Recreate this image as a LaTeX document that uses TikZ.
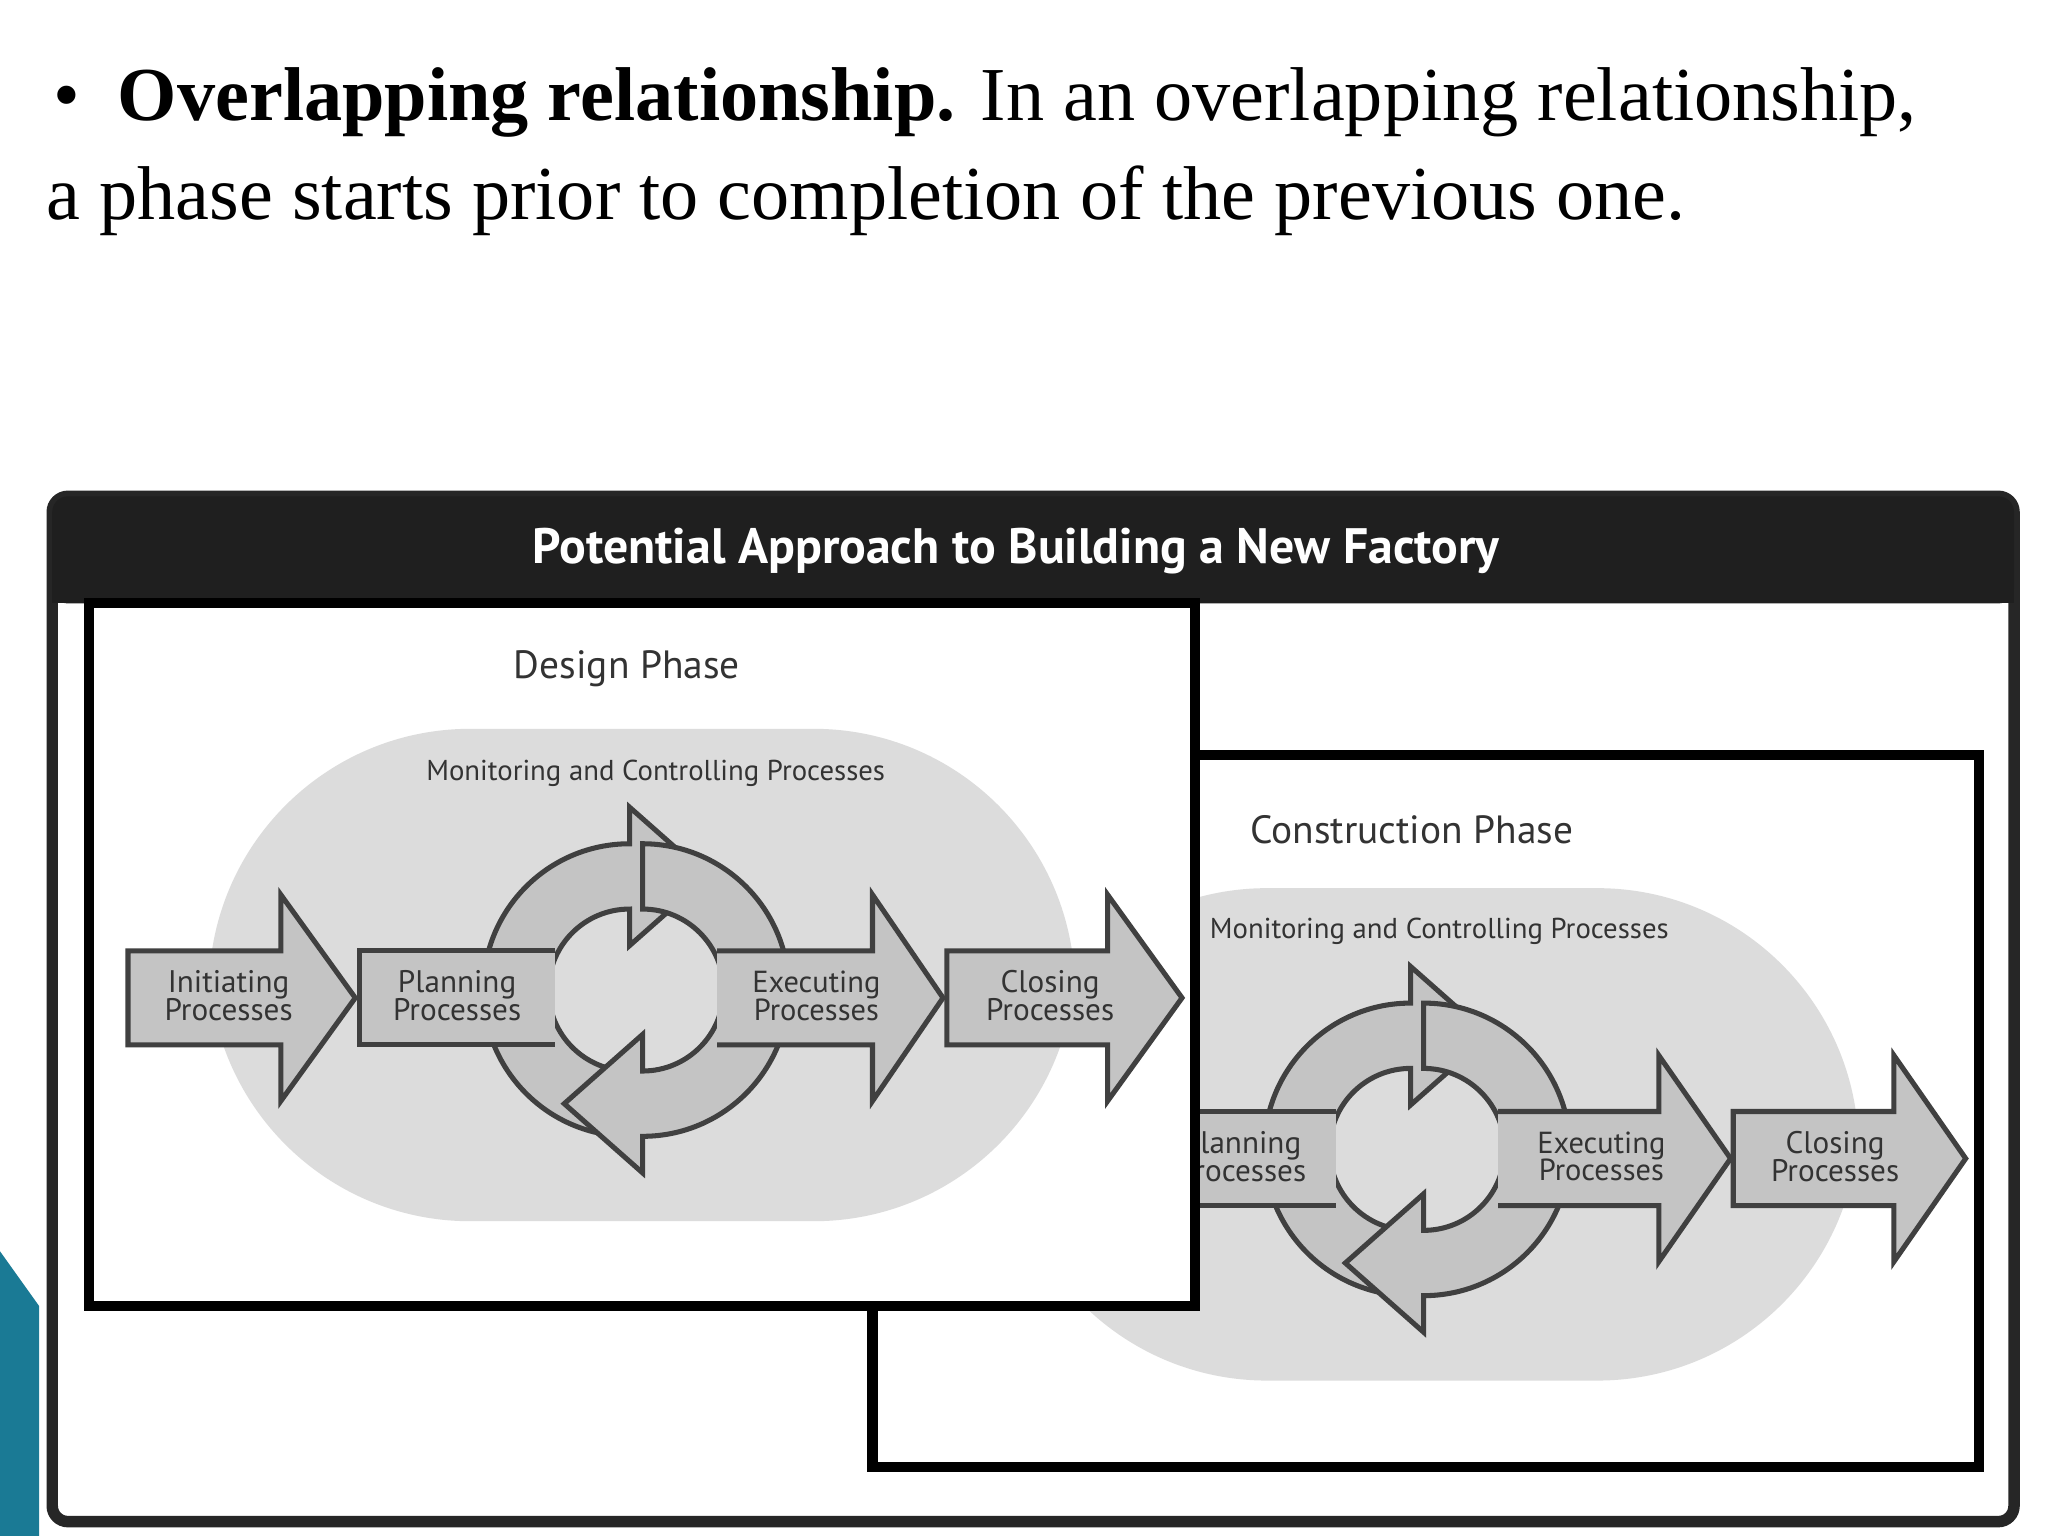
\documentclass[tikz,border=0pt]{standalone}
\usepackage{fontspec}
\setmainfont{Liberation Serif}
\newfontfamily\lab{PT Sans}
\newfontfamily\ttl{PT Sans}
\usepackage{graphicx}
\newcommand\fitw[2]{\resizebox{#1}{!}{#2}}
\definecolor{bgray}{HTML}{DCDCDC}
\definecolor{agray}{HTML}{C4C4C4}
\definecolor{teal}{HTML}{1A7A95}
\tikzset{
 box/.style={draw=black,line width=2.2pt,fill=white},
 area/.style={fill=bgray,rounded corners=2cm},
 blk/.style={fill=agray,draw=black!75,line width=1.1pt,line join=miter},
 edge/.style={draw=black!75,line width=1.1pt},
 lbl/.style={font=\lab,text=black!80,inner sep=0pt,align=center},
}
\newcommand\halfring[2]{%
 \path[blk] (-5,-#1) arc[start angle=270,end angle=90,radius=#1] -- (-5,#1+28) -- (55,{(#1+#2)/2}) -- (-5,#2-28) -- (-5,#2) arc[start angle=90,end angle=270,radius=#2] -- cycle;}
\newcommand\ring[4]{% cx cy R r
 \begin{scope}[shift={(#1,#2)},yscale=-1]
 \halfring{#3}{#4}
 \begin{scope}[rotate=180]\halfring{#3}{#4}\end{scope}
 \end{scope}}
\newcommand\barrow[5]{%
 \path[blk] (#1,#4-36) -- (#2,#4-36) -- (#2,#4-#5) -- (#3,#4) -- (#2,#4+#5) -- (#2,#4+36) -- (#1,#4+36) -- cycle;}
% body joining the ring on the right: x1 x2 y
\newcommand\lbody[3]{%
 \fill[agray] (#1,#3-36) rectangle (#2,#3+36);
 \draw[edge] (#2,#3-36) -- (#1,#3-36) -- (#1,#3+36) -- (#2,#3+36);}
% arrow leaving the ring on the left: x1 xh x2 y halfhead
\newcommand\rarrow[5]{%
 \fill[agray] (#1,#4-36) -- (#2,#4-36) -- (#2,#4-#5) -- (#3,#4) -- (#2,#4+#5) -- (#2,#4+36) -- (#1,#4+36) -- cycle;
 \draw[edge,line join=miter] (#1,#4-36) -- (#2,#4-36) -- (#2,#4-#5) -- (#3,#4) -- (#2,#4+#5) -- (#2,#4+36) -- (#1,#4+36);}
\begin{document}
\begin{tikzpicture}[x=0.01cm,y=-0.01cm]
\useasboundingbox (0,0) rectangle (1568,1176);
\fill[white] (0,0) rectangle (1568,1176);
\fill[teal] (0,958) -- (30,1000) -- (30,1176) -- (0,1176) -- cycle;
\node[anchor=base west,font=\fontsize{16.6}{19}\selectfont,inner sep=0] (l1) at (40,92) {\textbullet\hspace{0.5em}\textbf{Overlapping relationship.} In an overlapping relationship,};
\node[anchor=base west,font=\fontsize{16.6}{19}\selectfont,inner sep=0] (l2) at (35,168) {a phase starts prior to completion of the previous one.};
\draw[line width=2.5pt,rounded corners=0.12cm,draw=black!85] (40,380) rectangle (1542,1165);
\fill[black!88,rounded corners=0.12cm] (40,380) rectangle (1542,462);
\fill[black!88] (40,430) rectangle (1542,462);
\node[text=white,inner sep=0] (title) at (778,422) {\fitw{7.4cm}{\ttl\bfseries Potential Approach to Building a New Factory}};
% construction phase
\draw[box] (668,578) rectangle (1515,1123);
\fill[area] (770,680) rectangle (1423,1057);
\node[lbl] (ct) at (1081,635) {\fitw{2.47cm}{Construction Phase}};
\node[lbl] (cm) at (1102,713) {\fitw{3.51cm}{Monitoring and Controlling Processes}};
\ring{1085}{880}{112}{62}
\lbody{880}{1023}{887}
\rarrow{1147}{1270}{1325}{887}{79}
\barrow{1327}{1450}{1505}{887}{79}
\node[lbl] (cp) at (951,888) {\fitw{0.98cm}{\begin{tabular}{@{}c@{}}Planning\\[-3pt]Processes\end{tabular}}};
\node[lbl] (ce) at (1226,888) {\fitw{0.98cm}{\begin{tabular}{@{}c@{}}Executing\\[-3pt]Processes\end{tabular}}};
\node[lbl] (cc) at (1405,888) {\fitw{0.98cm}{\begin{tabular}{@{}c@{}}Closing\\[-3pt]Processes\end{tabular}}};
% design phase
\draw[box] (68,462) rectangle (915,1000);
\fill[area] (160,558) rectangle (823,935);
\node[lbl] (dt) at (480,512) {\fitw{1.73cm}{Design Phase}};
\node[lbl] (dm) at (502,592) {\fitw{3.51cm}{Monitoring and Controlling Processes}};
\ring{487}{758}{112}{62}
\barrow{98}{215}{272}{764}{79}
\lbody{275}{425}{764}
\rarrow{549}{668}{722}{764}{79}
\barrow{725}{848}{905}{764}{79}
\node[lbl] (di) at (175,765) {\fitw{0.98cm}{\begin{tabular}{@{}c@{}}Initiating\\[-3pt]Processes\end{tabular}}};
\node[lbl] (dp) at (350,765) {\fitw{0.98cm}{\begin{tabular}{@{}c@{}}Planning\\[-3pt]Processes\end{tabular}}};
\node[lbl] (de) at (625,765) {\fitw{0.98cm}{\begin{tabular}{@{}c@{}}Executing\\[-3pt]Processes\end{tabular}}};
\node[lbl] (dc) at (804,765) {\fitw{0.98cm}{\begin{tabular}{@{}c@{}}Closing\\[-3pt]Processes\end{tabular}}};
\end{tikzpicture}
\end{document}
